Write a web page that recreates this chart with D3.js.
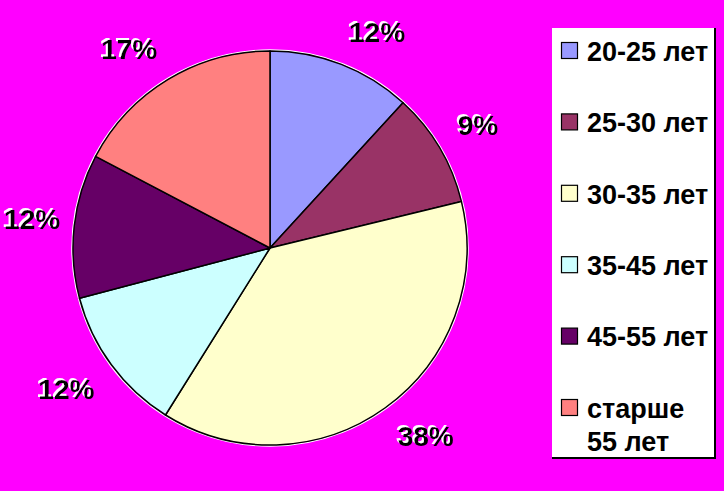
<!DOCTYPE html>
<html>
<head>
<meta charset="utf-8">
<script src="https://cdn.jsdelivr.net/npm/d3@7"></script>
<style>
html,body{margin:0;padding:0;background:#FF00FF;}
svg{display:block;}
text{font-family:"Liberation Sans",Arial,sans-serif;font-weight:bold;}
</style>
</head>
<body>
<svg id="chart" width="724" height="491"></svg>
<script>
const categories = ["20-25 лет","25-30 лет","30-35 лет","35-45 лет","45-55 лет","старше 55 лет"];
const legendLines = [["20-25 лет"],["25-30 лет"],["30-35 лет"],["35-45 лет"],["45-55 лет"],["старше","55 лет"]];
const values = [11.8, 9.4, 37.7, 12.0, 11.8, 17.3];
const colors = ["#9999FF","#993366","#FFFFCC","#CCFFFF","#660066","#FF8080"];

const W = 724, H = 491;
const svg = d3.select("#chart");
const defs = svg.append("defs");
const f = defs.append("filter").attr("id","wshadow").attr("x","-20%").attr("y","-20%").attr("width","140%").attr("height","140%");
f.append("feDropShadow").attr("dx",-2).attr("dy",-2).attr("stdDeviation",0)
  .attr("flood-color","#FFFFFF").attr("flood-opacity",1);

svg.append("rect").attr("width",W).attr("height",H).attr("fill","#FF00FF");

const cx = 270, cy = 248, R = 197, labelR = 218;
const g = svg.append("g").attr("transform",`translate(${cx},${cy})`);

const pie = d3.pie().sort(null).value(d=>d);
const arcs = pie(values);
const arc = d3.arc().innerRadius(0).outerRadius(R);

g.append("circle").attr("r",R+1).attr("fill","none").attr("stroke","#FFFFFF").attr("stroke-width",1.5);

g.selectAll("path.slice").data(arcs).join("path")
  .attr("class","slice")
  .attr("d",arc)
  .attr("fill",(d,i)=>colors[i])
  .attr("stroke","#000")
  .attr("stroke-width",1.5)
  .attr("stroke-linejoin","round");

const total = d3.sum(values);
const fmt = v => Math.round(v/total*100) + "%";
const clamp = v => Math.max(-1, Math.min(1, v));

const labels = g.selectAll("text.lab").data(arcs).join("text")
  .attr("class","lab")
  .attr("text-anchor","middle").attr("dominant-baseline","central")
  .attr("font-size",28).attr("fill","#000000")
  .attr("filter","url(#wshadow)")
  .text(d=>fmt(d.data));
labels.each(function(d){
  const a = (d.startAngle + d.endAngle)/2;
  const ux = Math.sin(a), uy = -Math.cos(a);
  const bb = this.getBBox();
  const hw = bb.width/2, hh = 12;
  let x = labelR*ux + hw*clamp(ux*3);
  const y = labelR*uy + hh*clamp(uy*3);
  // keep the label (with its shadow) inside the picture
  const minX = 4 - cx + hw;
  if (x < minX) x = minX;
  d3.select(this).attr("x",x).attr("y",y);
});

// Legend
const lx = 552, ly = 28, lw = 163, lh = 430;
const leg = svg.append("g");
leg.append("rect").attr("x",lx).attr("y",ly).attr("width",lw+1).attr("height",lh+1).attr("fill","#FFFFFF");
leg.append("line").attr("x1",lx+lw).attr("x2",lx+lw).attr("y1",ly).attr("y2",ly+lh+1).attr("stroke","#000").attr("stroke-width",2);
leg.append("line").attr("x1",lx).attr("x2",lx+lw+1).attr("y1",ly+lh).attr("y2",ly+lh).attr("stroke","#000").attr("stroke-width",2);

const rowY = d3.scalePoint().domain(d3.range(categories.length)).range([51,408]);
const items = leg.selectAll("g.item").data(categories).join("g")
  .attr("class","item")
  .attr("transform",(d,i)=>`translate(0,${rowY(i)})`);
items.append("rect")
  .attr("x",561.5).attr("y",-8.5).attr("width",16).attr("height",16)
  .attr("fill",(d,i)=>colors[i]).attr("stroke","#000").attr("stroke-width",1.2);
items.each(function(d,i){
  const t = d3.select(this).append("text")
    .attr("x",587).attr("y",0)
    .attr("font-size",27).attr("fill","#000");
  legendLines[i].forEach((ln,j)=>{
    t.append("tspan").attr("x",587).attr("dy", j===0 ? "0.36em" : "1.25em").text(ln);
  });
});
</script>
</body>
</html>
